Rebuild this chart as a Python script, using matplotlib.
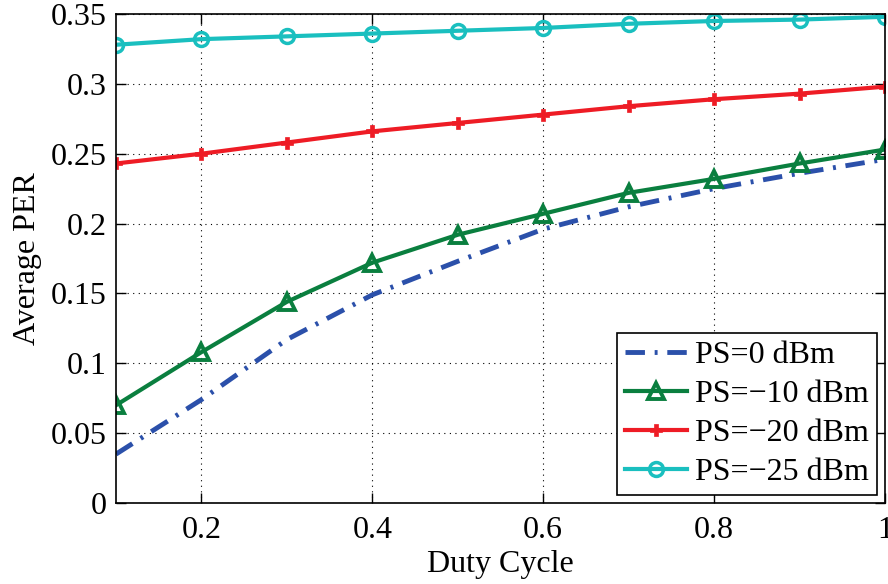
import numpy as np
import matplotlib.pyplot as plt

plt.rcParams['font.family'] = ['Liberation Serif', 'DejaVu Serif']

duty = [0.1, 0.2, 0.3, 0.4, 0.5, 0.6, 0.7, 0.8, 0.9, 1.0]
per_0 = [0.035, 0.074, 0.117, 0.149, 0.173, 0.196, 0.212, 0.225, 0.236, 0.246]
per_10 = [0.070, 0.108, 0.144, 0.172, 0.192, 0.207, 0.222, 0.232, 0.243, 0.253]
per_20 = [0.243, 0.250, 0.258, 0.266, 0.272, 0.278, 0.284, 0.289, 0.293, 0.298]
per_25 = [0.328, 0.332, 0.334, 0.336, 0.338, 0.340, 0.343, 0.345, 0.346, 0.348]

fig = plt.figure(figsize=(8.88, 5.84), dpi=100)
ax = fig.add_axes([116/888, 1 - 503/584, (885-116)/888, (503-14)/584])

ax.plot(duty, per_0, color='#2B50AA', lw=3.5, linestyle=(0, (4, 2, 0.6, 2)), label='PS=0 dBm')
ax.plot(duty, per_10, color='#0A7F3F', lw=3, marker='^', ms=12, mfc='none', mew=2.8,
        label='PS=\u221210 dBm')
ax.plot(duty, per_20, color='#EE1C25', lw=3, marker='P', ms=8, mew=0.5,
        label='PS=\u221220 dBm')
ax.plot(duty, per_25, color='#1ABFBF', lw=3, marker='o', ms=10, mfc='none', mew=2.5,
        label='PS=\u221225 dBm')

ax.set_xlim(0.1, 1.0)
ax.set_ylim(0, 0.35)
ax.set_xticks([0.2, 0.4, 0.6, 0.8, 1.0])
ax.set_xticklabels(['0.2', '0.4', '0.6', '0.8', '1'])
ax.set_yticks([0, 0.05, 0.1, 0.15, 0.2, 0.25, 0.3, 0.35])
ax.set_yticklabels(['0', '0.05', '0.1', '0.15', '0.2', '0.25', '0.3', '0.35'])
ax.tick_params(direction='in', length=7, width=1, labelsize=23, top=True, right=True)
ax.tick_params(axis='x', pad=9)
ax.tick_params(axis='y', pad=7)
ax.grid(True, color='black', linestyle=(0, (1, 4)), lw=0.8)
for s in ax.spines.values():
    s.set_linewidth(1.2)

ax.set_xlabel('Duty Cycle', fontsize=23, labelpad=4)
ax.set_ylabel('Average PER', fontsize=23, labelpad=6)

leg = ax.legend(loc='lower right', fontsize=23, frameon=True, fancybox=False,
                edgecolor='black', framealpha=1, borderpad=0.25, labelspacing=0.3,
                handlelength=1.95, handletextpad=0.25, borderaxespad=0.25)
leg.get_frame().set_linewidth(1.2)

fig.savefig('out.png', dpi=100)
